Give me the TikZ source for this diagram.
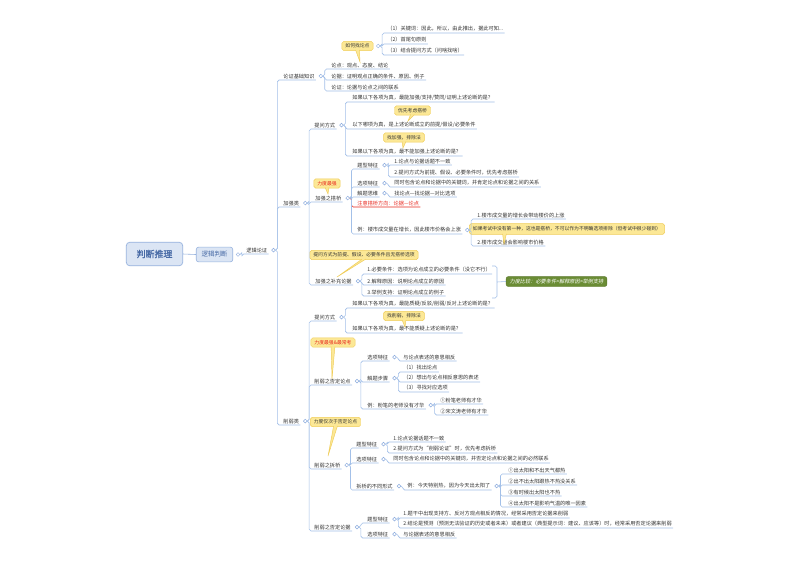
\documentclass[tikz,border=0pt]{standalone}
\usepackage{fontspec}
\setmainfont{Noto Sans CJK SC}[AutoFakeBold=1.6,AutoFakeSlant=0.2]
\usepackage{xcolor}
\definecolor{mmline}{RGB}{163,192,232}
\definecolor{mmknob}{RGB}{140,172,222}
\definecolor{mmtext}{RGB}{51,51,51}
\definecolor{mmred}{RGB}{232,40,30}
\definecolor{mmnote}{RGB}{252,232,150}
\definecolor{mmnoteedge}{RGB}{240,205,90}
\definecolor{mmroot}{RGB}{219,229,244}
\definecolor{mmrootedge}{RGB}{150,178,222}
\definecolor{mmroottext}{RGB}{70,105,165}
\definecolor{mmgreen}{RGB}{106,140,52}
\usetikzlibrary{positioning}

\newcommand{\topicfont}{\fontsize{4.4}{5.2}\selectfont}
\newcommand{\notefont}{\fontsize{4.1}{5}\selectfont}
\newcommand{\branchto}[3][]{\draw[conn,#1] (#2-k.east) -- ++(1.5pt,0) |- (#3.south east);}
\newcommand{\pointer}[2]{\filldraw[tail] ([xshift=-1.6pt,yshift=0.7pt]#1) -- (#2) -- ([xshift=1.6pt,yshift=0.7pt]#1);}

\tikzset{
  topic/.style={anchor=south west, inner xsep=1pt, inner ysep=1.1pt, font=\topicfont, text=mmtext},
  conn/.style={draw=mmline, line width=0.5pt, rounded corners=1.5pt},
  knob/.style={circle, draw=mmknob, fill=white, line width=0.4pt, inner sep=0pt, minimum size=3.2pt},
  note/.style={draw=mmnoteedge, fill=mmnote, rounded corners=1.5pt, line width=0.4pt, font=\notefont, text=mmtext, inner xsep=3pt, inner ysep=2pt},
  alertnote/.style={note, text=mmred},
  tail/.style={draw=mmnoteedge, fill=mmnote, line width=0.4pt},
  rootbox/.style={draw=mmrootedge, fill=mmroot, rounded corners=3pt, line width=0.6pt, text=mmroottext, font=\fontsize{7.6}{9}\selectfont\bfseries, minimum width=48pt, minimum height=20pt},
  subbox/.style={draw=mmrootedge, fill=mmroot, rounded corners=2pt, line width=0.5pt, text=mmroottext, font=\fontsize{5.5}{6.5}\selectfont, minimum width=31pt, minimum height=12.5pt},
  sumbox/.style={draw=mmgreen!85!black, fill=mmgreen, rounded corners=2pt, line width=0.4pt, text=white, font=\topicfont\itshape, inner xsep=3pt, inner ysep=2.2pt}
}

\begin{document}
\begin{tikzpicture}[x=0.85pt,y=-0.85pt]
  \fill[white] (0,0) rectangle (800,566);
  \useasboundingbox (0,0) rectangle (800,566);

  % Root
  \node[rootbox] (root) at (154.5,254) {判断推理};
  \node[subbox] (ljpd) at (214.5,254.5) {逻辑判断};
  \draw[conn, draw=mmrootedge] (root.east) -- (ljpd.west);
  \node[topic] (ljlz) at (245,254) {逻辑论证};

  % Basics
  \node[topic] (jczs) at (282,80) {论证基础知识};
  \node[topic] (ld) at (330,69) {论点：观点、态度、结论};
  \node[topic] (lj) at (330,80) {论据：证明观点正确的条件、原因、例子};
  \node[topic] (lzh) at (330,91) {论证：论据与论点之间的联系};
  \node[note] (hz) at (357.5,46) {如何找论点};
  \coordinate (hz-tip) at (360,62);
  \pointer{hz.south}{hz-tip}
  \node[topic] (hz1) at (386,33) {（1）关键词：因此，所以，由此推出，据此可知...};
  \node[topic] (hz2) at (386,44) {（2）首尾句原则};
  \node[topic] (hz3) at (386,55) {（3）结合提问方式（问啥找啥）};

  % Strengthen
  \node[topic] (jql) at (282,207) {加强类};
  \node[topic] (jtw) at (313,129) {提问方式};
  \node[topic] (jtw1) at (351,102) {如果以下各项为真，最能加强/支持/赞同/证明上述论断的是？};
  \node[topic] (jtw2) at (351,129) {以下哪项为真，是上述论断成立的前提/假设/必要条件};
  \node[topic] (jtw3) at (351,156) {如果以下各项为真，最不能加强上述论断的是？};
  \node[note] (yxdq) at (412.5,110.5) {优先考虑搭桥};
  \coordinate (yxdq-tip) at (408,121);
  \pointer{yxdq.south}{yxdq-tip}
  \node[note] (zjq) at (404,137.5) {找加强，排除法};
  \coordinate (zjq-tip) at (403,148);
  \pointer{zjq.south}{zjq-tip}

  \node[topic] (jdq) at (314,202) {加强之搭桥};
  \node[alertnote] (ldzq) at (327,183.5) {力度最强};
  \coordinate (ldzq-tip) at (328,194);
  \pointer{ldzq.south}{ldzq-tip}
  \node[topic] (jtx) at (356,169) {题型特征};
  \node[topic] (jtx1) at (393,165) {1.论点与论据话题不一致};
  \node[topic] (jtx2) at (393,177) {2.提问方式为前提、假设、必要条件时，优先考虑搭桥};
  \node[topic] (jxx) at (356,187) {选项特征};
  \node[topic] (jxx1) at (393,187) {同时包含论点和论据中的关键词，并肯定论点和论据之间的关系};
  \node[topic] (jsw) at (356,197) {解题思维};
  \node[topic] (jsw1) at (393,197) {找论点—找论据—对比选项};
  \node[topic, text=mmred] (jzy) at (356,207) {注意搭桥方向：论据—论点};
  \node[topic] (jli) at (356,234) {例：楼市成交量在增长，因此楼市价格会上涨};
  \node[topic] (jli1) at (476,219) {1.楼市成交量的增长会带动楼价的上涨};
  \node[topic] (jli2) at (476,246) {2.楼市成交量会影响楼市价格};
  \node[note, inner ysep=2.6pt] (jlico) at (567,229) {如果考试中没有第一种，这也是搭桥，不可以作为不明确选项排除（但考试中很少碰到）};
  \coordinate[right=30pt of jlico.south west] (jlico-base);
  \coordinate (jlico-tip) at (504,244);
  \pointer{jlico-base}{jlico-tip}

  \node[note] (tbfs) at (364,255) {提问方式为前提、假设、必要条件且无搭桥选项};
  \coordinate (tbfs-tip) at (337,277);
  \pointer{tbfs.south}{tbfs-tip}
  \node[topic] (jbc) at (314,285) {加强之补充论据};
  \node[topic] (jbc1) at (366,274) {1.必要条件：选项为论点成立的必要条件（没它不行）};
  \node[topic] (jbc2) at (366,285) {2.解释原因：说明论点成立的原因};
  \node[topic] (jbc3) at (366,296) {3.举例支持：证明论点成立的例子};

  % Weaken
  \node[topic] (xrl) at (282,425) {削弱类};
  \node[topic] (xtw) at (313,321) {提问方式};
  \node[topic] (xtw1) at (351,308) {如果以下各项为真，最能质疑/反驳/削弱/反对上述论断的是？};
  \node[topic] (xtw2) at (351,333) {如果以下各项为真，最不能质疑上述论断的是？};
  \node[note] (zxr) at (404,316) {找削弱，排除法};
  \coordinate (zxr-tip) at (405,327);
  \pointer{zxr.south}{zxr-tip}

  \node[alertnote] (zqcr) at (333,342.5) {力度最强\&最常考};
  \coordinate (zqcr-tip) at (332,379);
  \pointer{zqcr.south}{zqcr-tip}
  \node[topic] (xfd) at (313,385) {削弱之否定论点};
  \node[topic] (xfx) at (366,361) {选项特征};
  \node[topic] (xfx1) at (402,361) {与论点表述的意思相反};
  \node[topic] (xfb) at (366,382) {解题步骤};
  \node[topic] (xfb1) at (402,372) {（1）找出论点};
  \node[topic] (xfb2) at (402,382) {（2）想出与论点相反意思的表述};
  \node[topic] (xfb3) at (402,392) {（3）寻找对应选项};
  \node[topic] (xfl) at (366,409) {例：粉笔的老师没有才华};
  \node[topic] (xfl1) at (439,404) {①粉笔老师有才华};
  \node[topic] (xfl2) at (439,415) {②宋文涛老师有才华};

  \node[note] (jcyfd) at (335.5,422) {力度仅次于否定论点};
  \coordinate (jcyfd-tip) at (328,456);
  \pointer{jcyfd.south}{jcyfd-tip}
  \node[topic] (xcq) at (313,469) {削弱之拆桥};
  \node[topic] (xct) at (355,448) {题型特征};
  \node[topic] (xct1) at (392,442) {1.论点论据话题不一致};
  \node[topic] (xct2) at (392,453) {2.提问方式为“削弱论证”时，优先考虑拆桥};
  \node[topic] (xcx) at (355,463) {选项特征};
  \node[topic] (xcx1) at (392,463) {同时包含论点和论据中的关键词，并否定论点和论据之间的必然联系};
  \node[topic] (xcf) at (355,490) {拆桥的不同形式};
  \node[topic] (xcf1) at (406,490) {例：今天特别热，因为今天出太阳了};
  \node[topic] (xcf2) at (507,474) {①出太阳和不出天气都热};
  \node[topic] (xcf3) at (507,485) {②出不出太阳跟热不热没关系};
  \node[topic] (xcf4) at (507,496) {③有时候出太阳也不热};
  \node[topic] (xcf5) at (507,507) {④出太阳不是影响气温的唯一因素};

  \node[topic] (xfj) at (313,531) {削弱之否定论据};
  \node[topic] (xjt) at (366,523) {题型特征};
  \node[topic] (xjt1) at (402,518) {1.题干中出现支持方、反对方观点相反的情况，经常采用否定论据来削弱};
  \node[topic] (xjt2) at (402,528) {2.结论是预测（预测无法验证的历史或者未来）或者建议（典型提示词：建议、应该等）时，经常采用否定论据来削弱};
  \node[topic] (xjx) at (366,538) {选项特征};
  \node[topic] (xjx1) at (402,538) {与论据表述的意思相反};

  % Knobs
  \foreach \p in {ljpd,ljlz,jczs,hz,jql,jtw,jdq,jtx,jxx,jsw,jli,jbc,xrl,xtw,xfd,xfx,xfb,xfl,xcq,xct,xcx,xcf,xcf1,xfj,xjt,xjx}
    {\node[knob, right=2.4pt of \p] (\p-k) {};}

  % Branches
  \branchto[draw=mmred]{jdq}{jzy}
  \foreach \p/\c in {ljpd/ljlz, ljlz/jczs, ljlz/jql, ljlz/xrl,
      jczs/ld, jczs/lj, jczs/lzh, hz/hz1, hz/hz2, hz/hz3,
      jql/jtw, jql/jdq, jql/jbc, jtw/jtw1, jtw/jtw2, jtw/jtw3,
      jdq/jtx, jdq/jxx, jdq/jsw, jdq/jli, jtx/jtx1, jtx/jtx2, jxx/jxx1, jsw/jsw1,
      jli/jli1, jli/jli2, jbc/jbc1, jbc/jbc2, jbc/jbc3,
      xrl/xtw, xrl/xfd, xrl/xcq, xrl/xfj, xtw/xtw1, xtw/xtw2,
      xfd/xfx, xfd/xfb, xfd/xfl, xfx/xfx1, xfb/xfb1, xfb/xfb2, xfb/xfb3, xfl/xfl1, xfl/xfl2,
      xcq/xct, xcq/xcx, xcq/xcf, xct/xct1, xct/xct2, xcx/xcx1, xcf/xcf1,
      xcf1/xcf2, xcf1/xcf3, xcf1/xcf4, xcf1/xcf5,
      xfj/xjt, xfj/xjx, xjt/xjt1, xjt/xjt2, xjx/xjx1}
    {\branchto{\p}{\c}}

  % Summary
  \coordinate (brace-t) at (492,266);
  \coordinate (brace-m) at (497,282);
  \coordinate (brace-b) at (492,298);
  \draw[conn] (brace-t) -| (brace-m) |- (brace-b);
  \node[sumbox] (sum) at (556.5,281.5) {力度比较：必要条件>解释原因>举例支持};
  \draw[conn] (brace-m) -- (sum.west);
\end{tikzpicture}
\end{document}
